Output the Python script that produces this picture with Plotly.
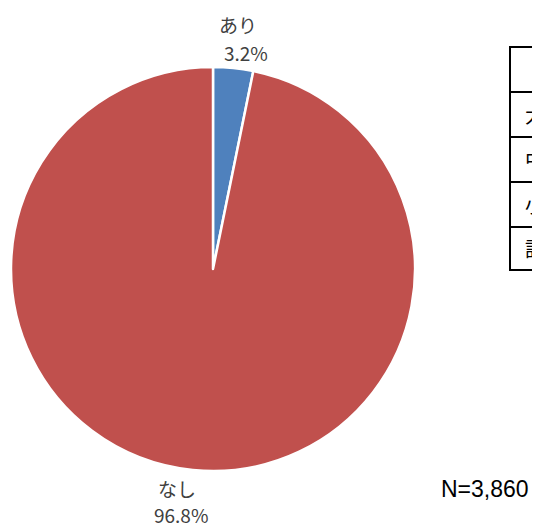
import plotly.graph_objects as go

labels = ["あり", "なし"]
values = [3.2, 96.8]
colors = ["#4F81BD", "#C0504D"]
table_rows = ["", "大企業", "中企業", "小企業", "計"]
n_text = "N=3,860"

# page body has an 8px default margin; work in page pixels and shift
OFF = 8
W, H = 540, 525 - OFF


def px(x):
    return (x - OFF) / W


def py(y):
    return 1 - (y - OFF) / H


cx, cy, r = 213, 269, 202

fig = go.Figure(go.Pie(
    labels=labels,
    values=values,
    sort=False,
    direction="clockwise",
    rotation=0,
    marker=dict(colors=colors, line=dict(color="white", width=2.5)),
    textinfo="none",
    hoverinfo="label+percent",
    showlegend=False,
    domain=dict(x=[px(cx - r), px(cx + r)], y=[py(cy + r), py(cy - r)]),
))

label_font = dict(family="Noto Sans CJK JP", size=19, color="#404040")
label_pos = [((238, 24), (246, 52)), ((177, 488), (181, 514))]
annotations = []
for (lab, val), ((lx, ly), (vx, vy)) in zip(zip(labels, values), label_pos):
    annotations.append(dict(xref="paper", yref="paper", x=px(lx), y=py(ly),
                            xanchor="center", yanchor="middle", showarrow=False,
                            text=lab, font=label_font))
    annotations.append(dict(xref="paper", yref="paper", x=px(vx), y=py(vy),
                            xanchor="center", yanchor="middle", showarrow=False,
                            text=f"{val:.1f}%", font=label_font))

shapes = []
row_edges = [47, 92, 137, 182, 227, 270]
x0 = 510
shapes.append(dict(type="rect", xref="paper", yref="paper",
                   x0=px(x0), x1=px(620), y0=py(row_edges[-1]), y1=py(row_edges[0]),
                   line=dict(color="black", width=2)))
for y in row_edges[1:-1]:
    shapes.append(dict(type="line", xref="paper", yref="paper",
                       x0=px(x0), x1=px(620), y0=py(y), y1=py(y),
                       line=dict(color="black", width=2)))

for i, t in enumerate(table_rows):
    if not t:
        continue
    ym = (row_edges[i] + row_edges[i + 1]) / 2
    annotations.append(dict(xref="paper", yref="paper", x=px(523), y=py(ym),
                            xanchor="left", yanchor="middle", showarrow=False, text=t,
                            font=dict(family="Noto Sans CJK JP", size=20, color="black")))

annotations.append(dict(xref="paper", yref="paper", x=px(439), y=py(489),
                        xanchor="left", yanchor="middle", showarrow=False, text=n_text,
                        font=dict(family="Liberation Sans", size=23, color="black")))

fig.update_layout(width=W, height=H, margin=dict(l=0, r=0, t=0, b=0),
                  paper_bgcolor="white", plot_bgcolor="white",
                  shapes=shapes, annotations=annotations)
fig.write_html("out.html")
